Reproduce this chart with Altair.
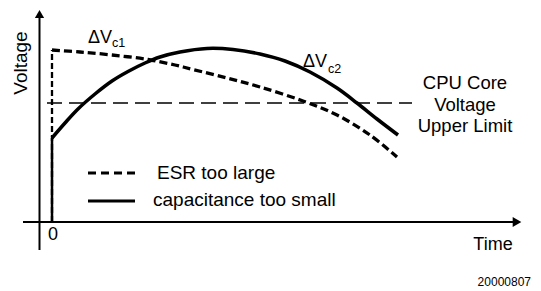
import altair as alt
import pandas as pd

# ---- data (time / voltage in arbitrary schematic units) ----
esr_t = [0, 2.8, 6.0, 9.6, 12.3, 14.1, 17.5, 20.8, 25.1, 28.5, 31.8, 34.5]
esr_v = [17.2, 17.0, 16.7, 16.25, 15.7, 15.25, 14.4, 13.5, 12.1, 10.7, 8.7, 6.5]
cap_t = [0, 1.3, 2.6, 4.3, 6.0, 7.6, 9.3, 10.8, 12.8, 15.5, 18.1, 20.8, 23.3, 25.8, 28.5, 30.5, 32.5, 34.6]
cap_v = [8.4, 9.9, 11.3, 12.8, 14.1, 15.05, 15.9, 16.5, 17.0, 17.35, 17.25, 16.8, 16.1, 15.0, 13.4, 11.9, 10.3, 8.7]
limit_v = 11.9
limit_t = [-0.5, 36.0]

legend_labels = ["ESR too large", "capacitance too small"]
limit_label = ["CPU Core", "Voltage", "Upper Limit"]

FONT = "Liberation Sans"
xs = alt.Scale(domain=[-4.4, 48.1], nice=False, zero=False)
ys = alt.Scale(domain=[-6.8, 21.4], nice=False, zero=False)
W, H = 525, 282


def X(f="t"):
    return alt.X(f"{f}:Q", scale=xs, axis=None)


def Y(f="v"):
    return alt.Y(f"{f}:Q", scale=ys, axis=None)


# axes
axes_df = pd.DataFrame({"t": [-2.9, -1.25], "v": [0, -2.8], "t2": [46.5, -1.25], "v2": [0, 20.8]})
axes = alt.Chart(axes_df).mark_rule(color="black", strokeWidth=2).encode(
    x=X(), y=Y(), x2="t2:Q", y2="v2:Q")
arrow_up = alt.Chart(pd.DataFrame({"t": [-1.25], "v": [20.8]})).mark_point(
    shape="triangle-up", filled=True, size=85, color="black", opacity=1).encode(x=X(), y=Y())
arrow_right = alt.Chart(pd.DataFrame({"t": [46.5], "v": [0]})).mark_point(
    shape="triangle-right", filled=True, size=100, color="black", opacity=1).encode(x=X(), y=Y())

# limit line
limit = alt.Chart(pd.DataFrame({"t": [limit_t[0]], "t2": [limit_t[1]], "v": [limit_v]})).mark_rule(
    color="black", strokeWidth=1.5, strokeDash=[15, 7]).encode(x=X(), x2="t2:Q", y=Y())

# vertical step-ups at t=0
vert_esr = alt.Chart(pd.DataFrame({"t": [0], "v": [0], "v2": [esr_v[0]]})).mark_rule(
    color="black", strokeWidth=2.3, strokeDash=[6, 3]).encode(x=X(), y=Y(), y2="v2:Q")
vert_cap = alt.Chart(pd.DataFrame({"t": [0], "v": [0], "v2": [cap_v[0]]})).mark_rule(
    color="black", strokeWidth=2.5).encode(x=X(), y=Y(), y2="v2:Q")

# curves
esr = alt.Chart(pd.DataFrame({"t": esr_t, "v": esr_v})).mark_line(
    color="black", strokeWidth=3.3, strokeDash=[8, 4], interpolate="catmull-rom").encode(x=X(), y=Y())
cap = alt.Chart(pd.DataFrame({"t": cap_t, "v": cap_v})).mark_line(
    color="black", strokeWidth=3.5, interpolate="catmull-rom").encode(x=X(), y=Y())

# legend
leg_esr = alt.Chart(pd.DataFrame({"t": [3.6], "t2": [8.3], "v": [4.9]})).mark_rule(
    color="black", strokeWidth=3, strokeDash=[8, 5]).encode(x=X(), x2="t2:Q", y=Y())
leg_cap = alt.Chart(pd.DataFrame({"t": [3.6], "t2": [8.3], "v": [2.1]})).mark_rule(
    color="black", strokeWidth=3).encode(x=X(), x2="t2:Q", y=Y())
leg_text = alt.Chart(pd.DataFrame({"t": [10.5, 10.1], "v": [4.3, 1.6], "s": legend_labels})).mark_text(
    align="left", baseline="alphabetic", font=FONT, fontSize=19, color="black").encode(
    x=X(), y=Y(), text="s:N")

# limit label
lim_text = alt.Chart(pd.DataFrame({"t": [41.3] * 3, "v": [13.3, 11.15, 9.0], "s": limit_label})).mark_text(
    align="center", baseline="alphabetic", font=FONT, fontSize=18.5, color="black").encode(
    x=X(), y=Y(), text="s:N")

# delta V labels
dv_big = alt.Chart(pd.DataFrame({"t": [3.6, 25.1], "v": [17.9, 15.5], "s": ["ΔV", "ΔV"]})).mark_text(
    align="left", baseline="alphabetic", font=FONT, fontSize=18, color="black").encode(
    x=X(), y=Y(), text="s:N")
dv_sub = alt.Chart(pd.DataFrame({"t": [6.0, 27.6], "v": [17.5, 14.9], "s": ["c1", "c2"]})).mark_text(
    align="left", baseline="alphabetic", font=FONT, fontSize=12.5, color="black").encode(
    x=X(), y=Y(), text="s:N")

# axis texts
misc = alt.Chart(pd.DataFrame({"t": [0.1, 44.1], "v": [-1.8, -2.8], "s": ["0", "Time"]})).mark_text(
    align="center", baseline="alphabetic", font=FONT, fontSize=18, color="black").encode(
    x=X(), y=Y(), text="s:N")
ylab = alt.Chart(pd.DataFrame({"t": [-2.55], "v": [15.9], "s": ["Voltage"]})).mark_text(
    align="center", baseline="alphabetic", angle=270, font=FONT, fontSize=19, color="black").encode(
    x=X(), y=Y(), text="s:N")
code = alt.Chart(pd.DataFrame({"t": [47.9], "v": [-6.4], "s": ["20000807"]})).mark_text(
    align="right", baseline="alphabetic", font=FONT, fontSize=12, color="black").encode(
    x=X(), y=Y(), text="s:N")

chart = alt.layer(
    axes, arrow_up, arrow_right, limit, vert_esr, vert_cap, esr, cap,
    leg_esr, leg_cap, leg_text, lim_text, dv_big, dv_sub, misc, ylab, code
).properties(
    width=W, height=H, padding=0, autosize=alt.AutoSizeParams(type="none"),
    background="white"
).configure_view(stroke=None)

chart.save("out.html", embed_options={"renderer": "svg", "actions": False})
